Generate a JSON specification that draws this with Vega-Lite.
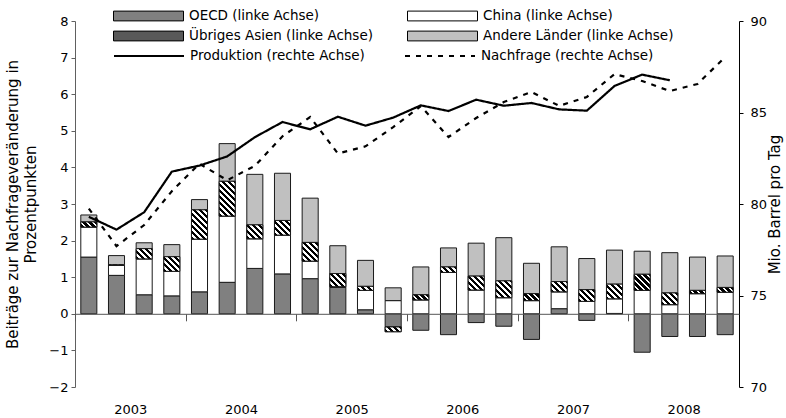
{
  "$schema": "https://vega.github.io/schema/vega-lite/v6.json",
  "width": 664,
  "height": 366,
  "autosize": {"type": "none"},
  "padding": {"left": 75, "top": 21, "right": 47, "bottom": 31},
  "config": {
    "view": {"stroke": null},
    "font": "DejaVu Sans",
    "axis": {"labelFont": "DejaVu Sans", "titleFont": "DejaVu Sans", "labelFontSize": 13, "titleFontSize": 15, "titleFontWeight": "normal", "labelColor": "#000", "titleColor": "#000", "grid": false, "labelOverlap": false}
  },
  "params": [
    {"name": "hatchStops", "value": [
      {"offset":0,"color":"#000"},{"offset":0.0275,"color":"#000"},{"offset":0.0275,"color":"#fff"},{"offset":0.05,"color":"#fff"},
      {"offset":0.05,"color":"#000"},{"offset":0.0775,"color":"#000"},{"offset":0.0775,"color":"#fff"},{"offset":0.1,"color":"#fff"},
      {"offset":0.1,"color":"#000"},{"offset":0.1275,"color":"#000"},{"offset":0.1275,"color":"#fff"},{"offset":0.15,"color":"#fff"},
      {"offset":0.15,"color":"#000"},{"offset":0.1775,"color":"#000"},{"offset":0.1775,"color":"#fff"},{"offset":0.2,"color":"#fff"},
      {"offset":0.2,"color":"#000"},{"offset":0.2275,"color":"#000"},{"offset":0.2275,"color":"#fff"},{"offset":0.25,"color":"#fff"},
      {"offset":0.25,"color":"#000"},{"offset":0.2775,"color":"#000"},{"offset":0.2775,"color":"#fff"},{"offset":0.3,"color":"#fff"},
      {"offset":0.3,"color":"#000"},{"offset":0.3275,"color":"#000"},{"offset":0.3275,"color":"#fff"},{"offset":0.35,"color":"#fff"},
      {"offset":0.35,"color":"#000"},{"offset":0.3775,"color":"#000"},{"offset":0.3775,"color":"#fff"},{"offset":0.4,"color":"#fff"},
      {"offset":0.4,"color":"#000"},{"offset":0.4275,"color":"#000"},{"offset":0.4275,"color":"#fff"},{"offset":0.45,"color":"#fff"},
      {"offset":0.45,"color":"#000"},{"offset":0.4775,"color":"#000"},{"offset":0.4775,"color":"#fff"},{"offset":0.5,"color":"#fff"},
      {"offset":0.5,"color":"#000"},{"offset":0.5275,"color":"#000"},{"offset":0.5275,"color":"#fff"},{"offset":0.55,"color":"#fff"},
      {"offset":0.55,"color":"#000"},{"offset":0.5775,"color":"#000"},{"offset":0.5775,"color":"#fff"},{"offset":0.6,"color":"#fff"},
      {"offset":0.6,"color":"#000"},{"offset":0.6275,"color":"#000"},{"offset":0.6275,"color":"#fff"},{"offset":0.65,"color":"#fff"},
      {"offset":0.65,"color":"#000"},{"offset":0.6775,"color":"#000"},{"offset":0.6775,"color":"#fff"},{"offset":0.7,"color":"#fff"},
      {"offset":0.7,"color":"#000"},{"offset":0.7275,"color":"#000"},{"offset":0.7275,"color":"#fff"},{"offset":0.75,"color":"#fff"},
      {"offset":0.75,"color":"#000"},{"offset":0.7775,"color":"#000"},{"offset":0.7775,"color":"#fff"},{"offset":0.8,"color":"#fff"},
      {"offset":0.8,"color":"#000"},{"offset":0.8275,"color":"#000"},{"offset":0.8275,"color":"#fff"},{"offset":0.85,"color":"#fff"},
      {"offset":0.85,"color":"#000"},{"offset":0.8775,"color":"#000"},{"offset":0.8775,"color":"#fff"},{"offset":0.9,"color":"#fff"},
      {"offset":0.9,"color":"#000"},{"offset":0.9275,"color":"#000"},{"offset":0.9275,"color":"#fff"},{"offset":0.95,"color":"#fff"},
      {"offset":0.95,"color":"#000"},{"offset":0.9775,"color":"#000"},{"offset":0.9775,"color":"#fff"},{"offset":1,"color":"#fff"}
    ]}
  ],
  "datasets": {
    "bars": [
      {"quarter":"2003-Q1","OECD (linke Achse)":1.55,"China (linke Achse)":0.82,"Übriges Asien (linke Achse)":0.14,"Andere Länder (linke Achse)":0.19},
      {"quarter":"2003-Q2","OECD (linke Achse)":1.05,"China (linke Achse)":0.27,"Übriges Asien (linke Achse)":0.02,"Andere Länder (linke Achse)":0.25},
      {"quarter":"2003-Q3","OECD (linke Achse)":0.52,"China (linke Achse)":0.98,"Übriges Asien (linke Achse)":0.28,"Andere Länder (linke Achse)":0.16},
      {"quarter":"2003-Q4","OECD (linke Achse)":0.49,"China (linke Achse)":0.67,"Übriges Asien (linke Achse)":0.40,"Andere Länder (linke Achse)":0.33},
      {"quarter":"2004-Q1","OECD (linke Achse)":0.60,"China (linke Achse)":1.44,"Übriges Asien (linke Achse)":0.80,"Andere Länder (linke Achse)":0.28},
      {"quarter":"2004-Q2","OECD (linke Achse)":0.86,"China (linke Achse)":1.81,"Übriges Asien (linke Achse)":0.95,"Andere Länder (linke Achse)":1.03},
      {"quarter":"2004-Q3","OECD (linke Achse)":1.24,"China (linke Achse)":0.81,"Übriges Asien (linke Achse)":0.38,"Andere Länder (linke Achse)":1.38},
      {"quarter":"2004-Q4","OECD (linke Achse)":1.09,"China (linke Achse)":1.06,"Übriges Asien (linke Achse)":0.40,"Andere Länder (linke Achse)":1.29},
      {"quarter":"2005-Q1","OECD (linke Achse)":0.96,"China (linke Achse)":0.48,"Übriges Asien (linke Achse)":0.51,"Andere Länder (linke Achse)":1.21},
      {"quarter":"2005-Q2","OECD (linke Achse)":0.72,"China (linke Achse)":0.02,"Übriges Asien (linke Achse)":0.36,"Andere Länder (linke Achse)":0.76},
      {"quarter":"2005-Q3","OECD (linke Achse)":0.11,"China (linke Achse)":0.53,"Übriges Asien (linke Achse)":0.11,"Andere Länder (linke Achse)":0.71},
      {"quarter":"2005-Q4","OECD (linke Achse)":-0.36,"China (linke Achse)":0.36,"Übriges Asien (linke Achse)":-0.13,"Andere Länder (linke Achse)":0.35},
      {"quarter":"2006-Q1","OECD (linke Achse)":-0.45,"China (linke Achse)":0.38,"Übriges Asien (linke Achse)":0.14,"Andere Länder (linke Achse)":0.76},
      {"quarter":"2006-Q2","OECD (linke Achse)":-0.57,"China (linke Achse)":1.13,"Übriges Asien (linke Achse)":0.15,"Andere Länder (linke Achse)":0.52},
      {"quarter":"2006-Q3","OECD (linke Achse)":-0.24,"China (linke Achse)":0.65,"Übriges Asien (linke Achse)":0.38,"Andere Länder (linke Achse)":0.90},
      {"quarter":"2006-Q4","OECD (linke Achse)":-0.34,"China (linke Achse)":0.44,"Übriges Asien (linke Achse)":0.46,"Andere Länder (linke Achse)":1.18},
      {"quarter":"2007-Q1","OECD (linke Achse)":-0.70,"China (linke Achse)":0.36,"Übriges Asien (linke Achse)":0.19,"Andere Länder (linke Achse)":0.83},
      {"quarter":"2007-Q2","OECD (linke Achse)":0.14,"China (linke Achse)":0.46,"Übriges Asien (linke Achse)":0.28,"Andere Länder (linke Achse)":0.95},
      {"quarter":"2007-Q3","OECD (linke Achse)":-0.18,"China (linke Achse)":0.34,"Übriges Asien (linke Achse)":0.32,"Andere Länder (linke Achse)":0.85},
      {"quarter":"2007-Q4","OECD (linke Achse)":0.01,"China (linke Achse)":0.40,"Übriges Asien (linke Achse)":0.40,"Andere Länder (linke Achse)":0.93},
      {"quarter":"2008-Q1","OECD (linke Achse)":-1.05,"China (linke Achse)":0.64,"Übriges Asien (linke Achse)":0.44,"Andere Länder (linke Achse)":0.63},
      {"quarter":"2008-Q2","OECD (linke Achse)":-0.62,"China (linke Achse)":0.25,"Übriges Asien (linke Achse)":0.32,"Andere Länder (linke Achse)":1.10},
      {"quarter":"2008-Q3","OECD (linke Achse)":-0.62,"China (linke Achse)":0.55,"Übriges Asien (linke Achse)":0.09,"Andere Länder (linke Achse)":0.91},
      {"quarter":"2008-Q4","OECD (linke Achse)":-0.57,"China (linke Achse)":0.59,"Übriges Asien (linke Achse)":0.13,"Andere Länder (linke Achse)":0.86}
    ],
    "lines": [
      {"quarter":"2003-Q1","series":"Produktion (rechte Achse)","value":79.3},
      {"quarter":"2003-Q2","series":"Produktion (rechte Achse)","value":78.6},
      {"quarter":"2003-Q3","series":"Produktion (rechte Achse)","value":79.55},
      {"quarter":"2003-Q4","series":"Produktion (rechte Achse)","value":81.77},
      {"quarter":"2004-Q1","series":"Produktion (rechte Achse)","value":82.1},
      {"quarter":"2004-Q2","series":"Produktion (rechte Achse)","value":82.6},
      {"quarter":"2004-Q3","series":"Produktion (rechte Achse)","value":83.65},
      {"quarter":"2004-Q4","series":"Produktion (rechte Achse)","value":84.48},
      {"quarter":"2005-Q1","series":"Produktion (rechte Achse)","value":84.08},
      {"quarter":"2005-Q2","series":"Produktion (rechte Achse)","value":84.77},
      {"quarter":"2005-Q3","series":"Produktion (rechte Achse)","value":84.28},
      {"quarter":"2005-Q4","series":"Produktion (rechte Achse)","value":84.72},
      {"quarter":"2006-Q1","series":"Produktion (rechte Achse)","value":85.39},
      {"quarter":"2006-Q2","series":"Produktion (rechte Achse)","value":85.08},
      {"quarter":"2006-Q3","series":"Produktion (rechte Achse)","value":85.7},
      {"quarter":"2006-Q4","series":"Produktion (rechte Achse)","value":85.37},
      {"quarter":"2007-Q1","series":"Produktion (rechte Achse)","value":85.52},
      {"quarter":"2007-Q2","series":"Produktion (rechte Achse)","value":85.17},
      {"quarter":"2007-Q3","series":"Produktion (rechte Achse)","value":85.1},
      {"quarter":"2007-Q4","series":"Produktion (rechte Achse)","value":86.45},
      {"quarter":"2008-Q1","series":"Produktion (rechte Achse)","value":87.07},
      {"quarter":"2008-Q2","series":"Produktion (rechte Achse)","value":86.76},
      {"quarter":"2003-Q1","series":"Nachfrage (rechte Achse)","value":79.75},
      {"quarter":"2003-Q2","series":"Nachfrage (rechte Achse)","value":77.7},
      {"quarter":"2003-Q3","series":"Nachfrage (rechte Achse)","value":78.85},
      {"quarter":"2003-Q4","series":"Nachfrage (rechte Achse)","value":80.7},
      {"quarter":"2004-Q1","series":"Nachfrage (rechte Achse)","value":82.2},
      {"quarter":"2004-Q2","series":"Nachfrage (rechte Achse)","value":81.3},
      {"quarter":"2004-Q3","series":"Nachfrage (rechte Achse)","value":82.08},
      {"quarter":"2004-Q4","series":"Nachfrage (rechte Achse)","value":83.7},
      {"quarter":"2005-Q1","series":"Nachfrage (rechte Achse)","value":84.75},
      {"quarter":"2005-Q2","series":"Nachfrage (rechte Achse)","value":82.76},
      {"quarter":"2005-Q3","series":"Nachfrage (rechte Achse)","value":83.15},
      {"quarter":"2005-Q4","series":"Nachfrage (rechte Achse)","value":84.2},
      {"quarter":"2006-Q1","series":"Nachfrage (rechte Achse)","value":85.35},
      {"quarter":"2006-Q2","series":"Nachfrage (rechte Achse)","value":83.66},
      {"quarter":"2006-Q3","series":"Nachfrage (rechte Achse)","value":84.7},
      {"quarter":"2006-Q4","series":"Nachfrage (rechte Achse)","value":85.57},
      {"quarter":"2007-Q1","series":"Nachfrage (rechte Achse)","value":86.12},
      {"quarter":"2007-Q2","series":"Nachfrage (rechte Achse)","value":85.36},
      {"quarter":"2007-Q3","series":"Nachfrage (rechte Achse)","value":85.85},
      {"quarter":"2007-Q4","series":"Nachfrage (rechte Achse)","value":87.1},
      {"quarter":"2008-Q1","series":"Nachfrage (rechte Achse)","value":86.72},
      {"quarter":"2008-Q2","series":"Nachfrage (rechte Achse)","value":86.17},
      {"quarter":"2008-Q3","series":"Nachfrage (rechte Achse)","value":86.56},
      {"quarter":"2008-Q4","series":"Nachfrage (rechte Achse)","value":88.03}
    ]
  },
  "layer": [
    {
      "data": {"name": "bars"},
      "transform": [
        {"fold": ["OECD (linke Achse)", "China (linke Achse)", "Übriges Asien (linke Achse)", "Andere Länder (linke Achse)"], "as": ["region", "value"]},
        {"stack": "value", "groupby": ["quarter"], "as": ["v0", "v1"]}
      ],
      "layer": [
        {
          "mark": {"type": "bar", "stroke": "#1a1a1a", "strokeWidth": 1},
          "encoding": {
            "x": {
              "field": "quarter", "type": "ordinal",
              "scale": {"paddingInner": 0.42, "paddingOuter": 0.21},
              "axis": {
                "orient": "bottom", "offset": -73.2, "title": null, "zindex": 1,
                "bandPosition": 0, "tickOffset": -5.8, "tickSize": 7,
                "tickColor": "#555", "domainColor": "#555",
                "tickOpacity": {"condition": {"test": "slice(datum.value, 5) === 'Q1'", "value": 1}, "value": 0},
                "labelExpr": "slice(datum.value, 5) === 'Q3' ? slice(datum.value, 0, 4) : ''",
                "labelOffset": -8.03, "labelAngle": 0, "labelPadding": 83,
                "labelOverlap": false, "labelFlush": false, "labelBound": false
              }
            },
            "y": {
              "field": "v0", "type": "quantitative",
              "scale": {"domain": [-2, 8], "nice": false, "zero": false},
              "axis": {
                "orient": "left", "values": [-2, -1, 0, 1, 2, 3, 4, 5, 6, 7, 8], "labelOverlap": false,
                "tickSize": 4, "labelPadding": 3, "domainColor": "#606060", "tickColor": "#606060",
                "title": ["Beiträge zur Nachfrageveränderung in", "Prozentpunkten"],
                "titlePadding": 10, "titleLineHeight": 18
              }
            },
            "y2": {"field": "v1"},
            "color": {
              "field": "region", "type": "nominal",
              "scale": {
                "domain": ["OECD (linke Achse)", "China (linke Achse)", "Übriges Asien (linke Achse)", "Andere Länder (linke Achse)"],
                "range": ["#808080", "#ffffff", "#595959", "#c0c0c0"]
              },
              "legend": {
                "orient": "none", "legendX": 38, "legendY": -15, "columns": 2, "direction": "horizontal",
                "title": null, "padding": 0, "rowPadding": 0, "columnPadding": 34, "clipHeight": 20,
                "symbolSize": 4900, "symbolType": "M-1,-0.14H1V0.14H-1Z",
                "symbolStrokeColor": "#000", "symbolStrokeWidth": 1,
                "labelFont": "DejaVu Sans", "labelFontSize": 13.5, "labelColor": "#000", "labelOffset": 5, "labelLimit": 400
              }
            }
          }
        },
        {
          "transform": [{"filter": "datum.region === 'Übriges Asien (linke Achse)'"}],
          "mark": {
            "type": "bar", "stroke": "#1a1a1a", "strokeWidth": 1,
            "fill": {"expr": "{gradient: 'linear', x1: 0, y1: 1, x2: 16.05 * 120 / (257.6 + pow(max(abs(datum.v1 - datum.v0) * 36.6, 0.5), 2)), y2: 1 - max(abs(datum.v1 - datum.v0) * 36.6, 0.5) * 120 / (257.6 + pow(max(abs(datum.v1 - datum.v0) * 36.6, 0.5), 2)), stops: hatchStops}"}
          },
          "encoding": {
            "x": {"field": "quarter", "type": "ordinal"},
            "y": {
              "field": "v0", "type": "quantitative",
              "axis": {
                "orient": "left", "values": [-2, -1, 0, 1, 2, 3, 4, 5, 6, 7, 8], "labelOverlap": false,
                "tickSize": 4, "labelPadding": 3, "domainColor": "#606060", "tickColor": "#606060",
                "title": ["Beiträge zur Nachfrageveränderung in", "Prozentpunkten"],
                "titlePadding": 10, "titleLineHeight": 18
              }
            },
            "y2": {"field": "v1"}
          }
        }
      ]
    },
    {
      "data": {"name": "lines"},
      "mark": {"type": "line", "stroke": "#000", "strokeWidth": 2.2, "strokeCap": "butt"},
      "encoding": {
        "x": {"field": "quarter", "type": "ordinal"},
        "y": {
          "field": "value", "type": "quantitative",
          "scale": {"domain": [70, 90], "nice": false, "zero": false},
          "axis": {
            "orient": "right", "values": [70, 75, 80, 85, 90],
            "tickSize": 4, "labelPadding": 7, "domainColor": "#000", "tickColor": "#000",
            "title": "Mio. Barrel pro Tag", "titleAngle": 270, "titleBaseline": "top", "titlePadding": 1
          }
        },
        "strokeDash": {
          "field": "series", "type": "nominal",
          "scale": {"domain": ["Produktion (rechte Achse)", "Nachfrage (rechte Achse)"], "range": [[1, 0], [5, 6]]},
          "legend": {
            "orient": "none", "legendX": 38, "legendY": 25, "columns": 2, "direction": "horizontal",
            "title": null, "padding": 0, "rowPadding": 0, "columnPadding": 39, "clipHeight": 20,
            "symbolSize": 4900, "symbolType": "stroke",
            "symbolStrokeColor": "#000", "symbolStrokeWidth": 2,
            "labelFont": "DejaVu Sans", "labelFontSize": 13.5, "labelColor": "#000", "labelOffset": 5, "labelLimit": 400
          }
        }
      }
    }
  ],
  "resolve": {"scale": {"y": "independent"}}
}
